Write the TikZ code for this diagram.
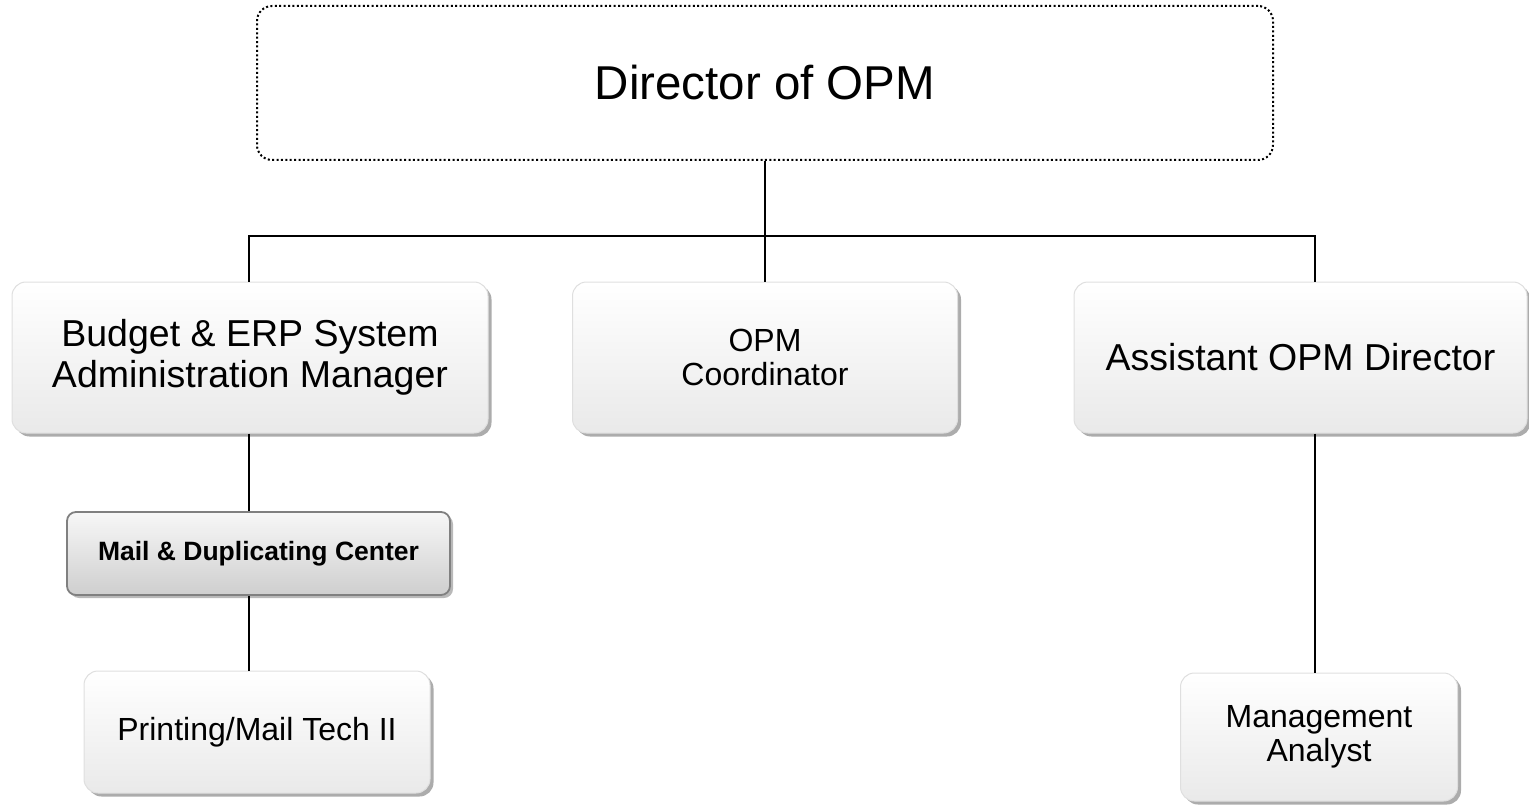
\documentclass[tikz,border=0pt]{standalone}
\usepackage{fontspec}
\setmainfont{Liberation Sans}
\usetikzlibrary{shadows}
\tikzset{
  box/.style={draw=gray!25, line width=1pt, rounded corners=14pt, top color=white, bottom color=gray!17,
    drop shadow={shadow xshift=3.5pt, shadow yshift=-3.5pt, fill=gray!65, opacity=1},
    align=center, inner sep=0pt},
  darkbox/.style={draw=gray!100!black, line width=1.8pt, rounded corners=9pt, top color=gray!6, bottom color=gray!38,
    drop shadow={shadow xshift=3pt, shadow yshift=-3pt, fill=gray!55, opacity=1},
    align=center, inner sep=0pt},
  topbox/.style={draw=black, line width=2pt, dash pattern=on 2pt off 2.4pt, rounded corners=15pt, fill=white,
    align=center, inner sep=0pt},
  link/.style={draw=black, line width=2pt},
  big/.style={font=\fontsize{37.5}{41.6}\selectfont},
  mid/.style={font=\fontsize{32}{34}\selectfont},
}
\begin{document}
\begin{tikzpicture}[x=1pt, y=-1pt]
\useasboundingbox (0,0) rectangle (1529,805);
\node[topbox, minimum width=1016pt, minimum height=154pt, font=\fontsize{47.5}{50}\selectfont] (director) at (765,83) {Director of OPM};
\node[box, big, minimum width=476pt, minimum height=151pt] (budget) at (250,357.5) {Budget \& ERP System\\Administration Manager};
\node[box, mid, minimum width=385pt, minimum height=151pt] (coord) at (765,357.5) {OPM\\Coordinator};
\node[box, big, minimum width=453pt, minimum height=151pt] (assistant) at (1300.5,357.5) {Assistant OPM Director};
\node[darkbox, font=\bfseries\fontsize{26.5}{30}\selectfont, minimum width=383pt, minimum height=83pt] (mail) at (258.5,553.5) {Mail \& Duplicating Center};
\node[box, mid, minimum width=346pt, minimum height=122pt] (printing) at (257,732) {Printing/Mail Tech II};
\node[box, font=\fontsize{32}{33.5}\selectfont, minimum width=277pt, minimum height=128pt] (analyst) at (1319,737) {Management\\Analyst};
\coordinate (bus) at (765,236);
\coordinate (lx) at (249,0);
\coordinate (rx) at (1315,0);
\draw[link] (director.south) -- (bus);
\draw[link] (lx |- budget.north) -- (lx |- bus) -- (rx |- bus) -- (rx |- assistant.north);
\draw[link] (bus) -- (coord.north);
\draw[link] (lx |- budget.south) -- (lx |- mail.north);
\draw[link] (lx |- mail.south) -- (lx |- printing.north);
\draw[link] (rx |- assistant.south) -- (rx |- analyst.north);
\end{tikzpicture}
\end{document}
